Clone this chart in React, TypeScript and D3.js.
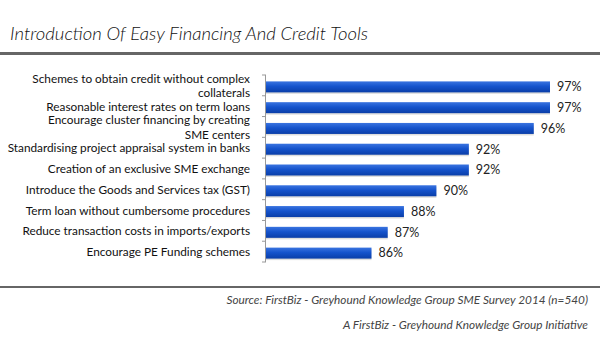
import React from "react";
import * as d3 from "d3";

const width = 600;
const height = 353;

const categories = [
  "Schemes to obtain credit without complex|collaterals",
  "Reasonable interest rates on term loans",
  "Encourage cluster financing by creating|SME centers",
  "Standardising project appraisal system in banks",
  "Creation of an exclusive SME exchange",
  "Introduce the Goods and Services tax (GST)",
  "Term loan without cumbersome procedures",
  "Reduce transaction costs in imports/exports",
  "Encourage PE Funding schemes",
];
const values = [97, 97, 96, 92, 92, 90, 88, 87, 86];

const title = "Introduction Of Easy Financing And Credit Tools";
const source = "Source: FirstBiz - Greyhound Knowledge Group SME Survey 2014 (n=540)";
const credit = "A FirstBiz - Greyhound Knowledge Group Initiative";

const axisX = 266;
const font = "Lato, 'Open Sans', sans-serif";

const App = () => {
  // value scale: the axis line sits around 79.5%
  const xScale = d3.scaleLinear().domain([79.5, 97]).range([axisX, 550]);
  const yScale = d3.scaleBand().domain(categories).range([75, 262]);
  const step = yScale.step();
  const barH = 11;

  const ticks = d3.range(categories.length + 1).map((i) => 75 + i * step);

  return (
    <svg
      width={width}
      height={height}
      style={{ position: "absolute", left: 0, top: 0, background: "#fff" }}
    >
      <defs>
        <linearGradient id="barGrad" x1="0" y1="0" x2="0" y2="1">
          <stop offset="0" stopColor="#3a74e0" />
          <stop offset="0.45" stopColor="#1553cc" />
          <stop offset="1" stopColor="#0a3ea8" />
        </linearGradient>
      </defs>

      <text
        x={10}
        y={40}
        fontFamily={font}
        fontStyle="italic"
        fontWeight={300}
        fontSize={18.5}
        fill="#111"
      >
        {title}
      </text>
      <rect x={0} y={52} width={width} height={3} fill="#666" />

      {categories.map((c, i) => {
        const yc = (yScale(c) ?? 0) + step / 2 + 1.5;
        const lines = c.split("|");
        const lh = 14.5;
        const y0 = yc - ((lines.length - 1) * lh) / 2 - 1;
        return (
          <g key={c}>
            <rect
              x={axisX}
              y={yc - barH / 2 + 1.5}
              width={xScale(values[i]) - axisX}
              height={barH}
              fill="#bbb"
              opacity={0.5}
            />
            <rect
              x={axisX}
              y={yc - barH / 2}
              width={xScale(values[i]) - axisX}
              height={barH}
              fill="url(#barGrad)"
            />
            <text
              x={xScale(values[i]) + 7}
              y={yc}
              dy="0.35em"
              fontFamily={font}
              fontSize={12.5}
              fill="#222"
            >
              {values[i]}%
            </text>
            {lines.map((l, j) => (
              <text
                key={l}
                x={250}
                y={y0 + j * lh}
                dy="0.35em"
                textAnchor="end"
                fontFamily={font}
                fontSize={11.8}
                fill="#111"
              >
                {l}
              </text>
            ))}
          </g>
        );
      })}

      <line x1={axisX - 0.5} x2={axisX - 0.5} y1={75} y2={262} stroke="#999" />
      {ticks.map((t) => (
        <line key={t} x1={axisX - 4} x2={axisX} y1={t} y2={t} stroke="#999" />
      ))}

      <rect x={0} y={286} width={width} height={2} fill="#666" />
      <text
        x={588}
        y={300}
        dy="0.35em"
        textAnchor="end"
        fontFamily={font}
        fontStyle="italic"
        fontSize={11.8}
        fill="#444"
      >
        {source}
      </text>
      <text
        x={588}
        y={325}
        dy="0.35em"
        textAnchor="end"
        fontFamily={font}
        fontStyle="italic"
        fontSize={11.8}
        fill="#444"
      >
        {credit}
      </text>
    </svg>
  );
};

export default App;
